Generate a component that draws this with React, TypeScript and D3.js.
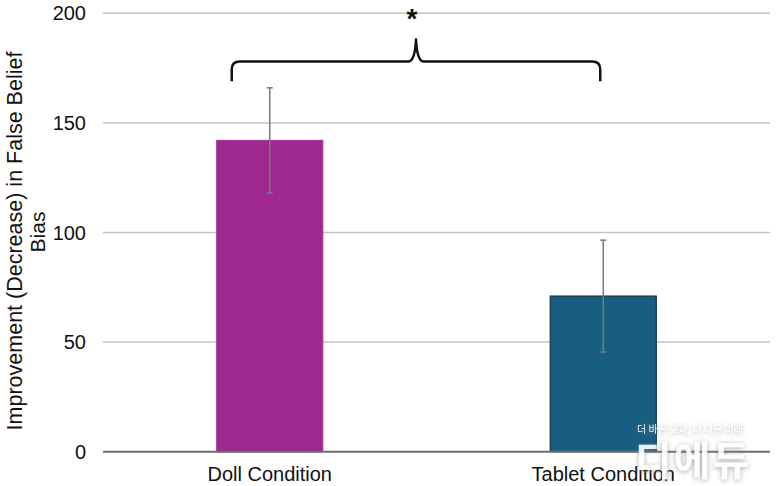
import React from "react";
import * as d3 from "d3";

const categories = ["Doll Condition", "Tablet Condition"];
const means = [142, 71];
const errors = [24, 25.5];
const barColors = ["#9E288E", "#175E80"];
const barStrokes = ["#A93A9A", "#15323f"];
const yTicks = [0, 50, 100, 150, 200];
const yLabelLines = ["Improvement (Decrease) in False Belief", "Bias"];
const significance = "*";
const bracketLevels = { end: 169, bar: 178, peak: 188, star: 200 };
const watermarkSmall = "더 바른 교육, 더 나은 미래";
const watermarkBig = "디에듀";

const W = 780;
const H = 486;
const FONT = "Liberation Sans, Arial, Helvetica, sans-serif";

export default function App() {
  const x = d3.scaleBand<string>().domain(categories).range([103, 770]).padding(0);
  const y = d3.scaleLinear().domain([0, 200]).range([451.7, 13.3]);
  const barW = x.bandwidth() * 0.318;
  const cx = (c: string) => (x(c) as number) + x.bandwidth() / 2;

  const left = cx(categories[0]) - 38;
  const right = cx(categories[1]) - 3;
  const mid = (left + right) / 2;
  const yb = y(bracketLevels.bar);
  const ye = y(bracketLevels.end);
  const yp = y(bracketLevels.peak);
  const r = 8;
  const bracket = [
    `M${left},${ye}`,
    `L${left},${yb + r}`,
    `Q${left},${yb} ${left + r},${yb}`,
    `L${mid - 8},${yb}`,
    `Q${mid - 1},${yb} ${mid},${yp}`,
    `Q${mid + 1},${yb} ${mid + 8},${yb}`,
    `L${right - r},${yb}`,
    `Q${right},${yb} ${right},${yb + r}`,
    `L${right},${ye}`,
  ].join(" ");

  return (
    <svg
      width={W}
      height={H}
      style={{ position: "absolute", left: 0, top: 0, background: "#fff" }}
      fontFamily={FONT}
    >
      <defs>
        <filter id="wmShadow" x="-20%" y="-40%" width="140%" height="180%">
          <feDropShadow dx="0" dy="1" stdDeviation="2.5" floodColor="#7a7a7a" floodOpacity="0.75" />
        </filter>
      </defs>
      {/* gridlines */}
      {yTicks.filter((t) => t > 0).map((t) => (
        <line key={t} x1={103} x2={770} y1={y(t)} y2={y(t)} stroke="#c3c3c3" strokeWidth={1.5} />
      ))}
      {/* tick labels */}
      {yTicks.map((t) => (
        <text key={t} x={86} y={y(t) + 7} textAnchor="end" fontSize={20} fill="#111">
          {t}
        </text>
      ))}
      {/* bars */}
      {categories.map((c, i) => (
        <rect
          key={c}
          x={cx(c) - barW / 2}
          y={y(means[i])}
          width={barW}
          height={y(0) - y(means[i])}
          fill={barColors[i]}
          stroke={barStrokes[i]}
          strokeWidth={1.2}
        />
      ))}
      {/* zero line */}
      <line x1={103} x2={770} y1={y(0)} y2={y(0)} stroke="#6e6e6e" strokeWidth={2} />
      {/* error bars */}
      {categories.map((c, i) => {
        const xc = cx(c);
        const hi = y(means[i] + errors[i]);
        const lo = y(means[i] - errors[i]);
        return (
          <g key={c} stroke="#7a7a7a" strokeWidth={1.5}>
            <line x1={xc} x2={xc} y1={hi} y2={lo} />
            <line x1={xc - 3} x2={xc + 3} y1={hi} y2={hi} />
            <line x1={xc - 3} x2={xc + 3} y1={lo} y2={lo} />
          </g>
        );
      })}
      {/* x labels */}
      {categories.map((c) => (
        <text key={c} x={cx(c)} y={481} textAnchor="middle" fontSize={20} fill="#111">
          {c}
        </text>
      ))}
      {/* y label */}
      <g transform="translate(22,241) rotate(-90)">
        <text x={0} y={0} textAnchor="middle" fontSize={21.5} fill="#111">
          {yLabelLines[0]}
        </text>
      </g>
      <g transform="translate(45,232) rotate(-90)">
        <text x={0} y={0} textAnchor="middle" fontSize={21} fill="#111">
          {yLabelLines[1]}
        </text>
      </g>
      {/* significance bracket */}
      <path d={bracket} fill="none" stroke="#111" strokeWidth={2.5} strokeLinejoin="round" />
      <text x={mid - 4} y={y(bracketLevels.star) + 15} textAnchor="middle" fontSize={28} fontWeight="bold" fill="#111">
        {significance}
      </text>
      {/* watermark */}
      <g opacity={0.9}>
        <text x={637} y={433} fontSize={10} fill="#ffffff" fontFamily="Noto Sans CJK KR" filter="url(#wmShadow)">
          {watermarkSmall}
        </text>
        <text x={635} y={475} fontSize={40} fontWeight="bold" fill="#ffffff" fontFamily="Noto Sans CJK KR" filter="url(#wmShadow)" letterSpacing={2}>
          {watermarkBig}
        </text>
      </g>
    </svg>
  );
}
